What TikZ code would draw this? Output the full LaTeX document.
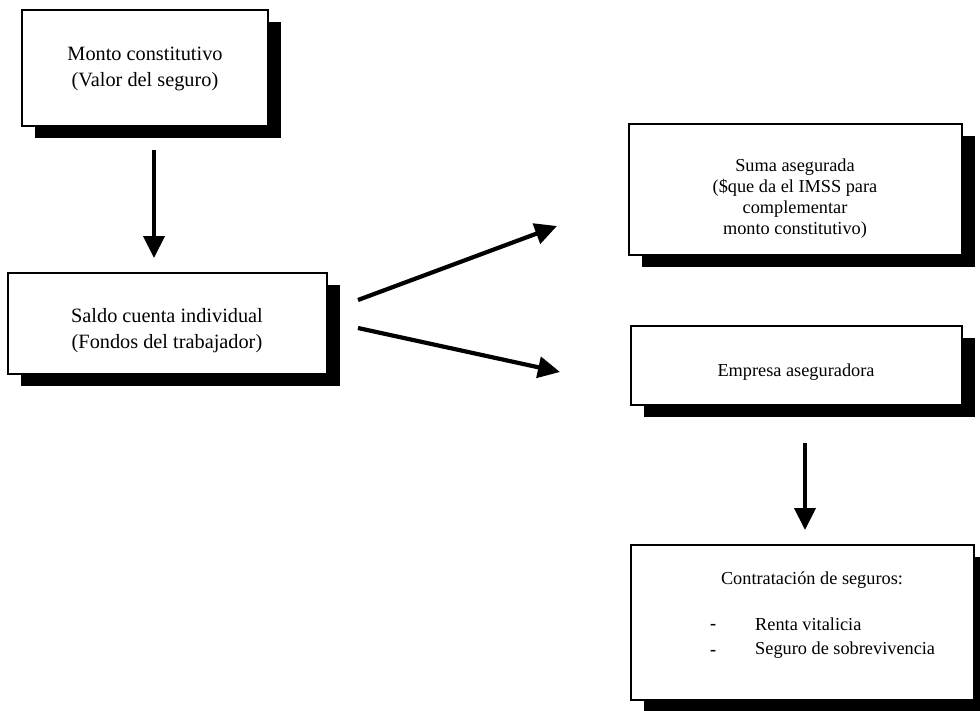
\documentclass[tikz,border=0pt]{standalone}
\usepackage{fontspec}
\setmainfont{Liberation Serif}
\usetikzlibrary{arrows.meta,shadows}
\begin{document}
\begin{tikzpicture}[x=1pt,y=-1pt,
  box/.style={draw=black, line width=1.4pt, fill=white, inner sep=0pt,
    drop shadow={shadow xshift=13pt, shadow yshift=-12pt, fill=black, opacity=1}},
  bigtxt/.style={font=\fontsize{20.3}{26}\selectfont, align=center, inner sep=0pt},
  smalltxt/.style={font=\fontsize{18.3}{21}\selectfont, align=center, inner sep=0pt},
  dashtxt/.style={font=\fontsize{18.3}{21}\selectfont\bfseries, inner sep=0pt},
  arr/.style={line width=4.2pt, -{Triangle[length=22pt,width=21pt]}}]
\useasboundingbox (0,0) rectangle (980,710);
% boxes
\node[box, minimum width=246pt, minimum height=116pt] (b1) at (145,68) {};
\node[box, minimum width=319pt, minimum height=101pt] (b2) at (167.5,323.5) {};
\node[box, minimum width=333pt, minimum height=131pt] (b3) at (795.5,189.5) {};
\node[box, minimum width=331pt, minimum height=79pt] (b4) at (796.5,365.5) {};
\node[box, minimum width=343pt, minimum height=155pt] (b5) at (802.5,622.5) {};
% texts
\node[bigtxt] (t1) at (145,69) {Monto constitutivo\\(Valor del seguro)};
\node[bigtxt] (t2) at (167,331) {Saldo cuenta individual\\(Fondos del trabajador)};
\node[smalltxt] (t3) at (795,199) {Suma asegurada\\(\$que da el IMSS para\\complementar\\monto constitutivo)};
\node[smalltxt] (t4) at (796,372) {Empresa aseguradora};
\node[smalltxt] (t5) at (812,580) {Contratación de seguros:};
\node[dashtxt, anchor=west] (d1) at (710,627) {-};
\node[dashtxt, anchor=west] (d2) at (710,653) {-};
\node[smalltxt, anchor=west] (l1) at (755,624) {Renta vitalicia};
\node[smalltxt, anchor=west] (l2) at (755,650) {Seguro de sobrevivencia};
% arrow end points
\coordinate (a1s) at (154,150);
\coordinate (a1e) at (154,258);
\coordinate (a2s) at (358,300);
\coordinate (a2e) at (557,226);
\coordinate (a3s) at (358,328);
\coordinate (a3e) at (560,372);
\coordinate (a4s) at (805,443);
\coordinate (a4e) at (805,530);
\draw[arr] (a1s) -- (a1e);
\draw[arr] (a2s) -- (a2e);
\draw[arr] (a3s) -- (a3e);
\draw[arr] (a4s) -- (a4e);
\end{tikzpicture}
\end{document}
